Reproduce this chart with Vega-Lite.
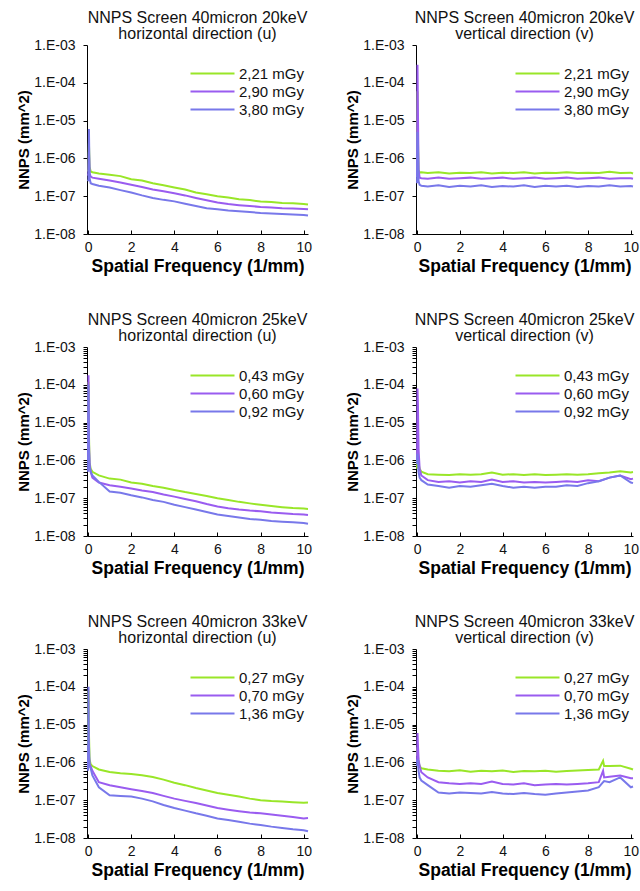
{
"$schema": "https://vega.github.io/schema/vega-lite/v6.json",
"background": "white",
"padding": {"left": 16, "top": 10, "right": 4, "bottom": 4},
"config": {
 "font": "Liberation Sans",
 "view": {"stroke": null},
 "axis": {"grid": false, "domainColor": "#000", "tickColor": "#000", "labelColor": "#111", "labelFontSize": 14, "titleFontSize": 15, "titleFontWeight": "bold", "titleColor": "#000", "tickSize": 4, "labelPadding": 8, "labelOverlap": false},
 "axisX": {"titleFontSize": 17.5, "titlePadding": 3, "labelFlush": false, "tickSize": -4, "labelPadding": 10},
 "axisY": {"titlePadding": 2},
 "title": {"fontSize": 16, "fontWeight": "normal", "color": "#111", "offset": -4, "lineHeight": 16, "anchor": "middle", "frame": "group"},
 "legend": {"orient": "none", "legendY": 21, "symbolType": "M-4,0H4", "symbolSize": 121, "symbolStrokeWidth": 2, "labelFontSize": 15, "labelColor": "#111", "labelOffset": 19, "rowPadding": 2},
 "line": {"strokeWidth": 2, "clip": true}
},
"datasets": {
 "a": [
  {"x":0,"s":"2,21 mGy","y":4.5e-7},{"x":0.02,"s":"2,21 mGy","y":5e-7},{"x":0.04,"s":"2,21 mGy","y":2.5e-6},{"x":0.07,"s":"2,21 mGy","y":6e-7},{"x":0.12,"s":"2,21 mGy","y":4.5e-7},{"x":0.2,"s":"2,21 mGy","y":4.3e-7},{"x":0.5,"s":"2,21 mGy","y":4.0e-7},{"x":1,"s":"2,21 mGy","y":3.7e-7},{"x":1.5,"s":"2,21 mGy","y":3.4e-7},{"x":2,"s":"2,21 mGy","y":2.8e-7},{"x":2.5,"s":"2,21 mGy","y":2.6e-7},{"x":3,"s":"2,21 mGy","y":2.2e-7},{"x":3.5,"s":"2,21 mGy","y":1.95e-7},{"x":4,"s":"2,21 mGy","y":1.7e-7},{"x":4.5,"s":"2,21 mGy","y":1.5e-7},{"x":5,"s":"2,21 mGy","y":1.25e-7},{"x":5.5,"s":"2,21 mGy","y":1.12e-7},{"x":6,"s":"2,21 mGy","y":1.0e-7},{"x":6.5,"s":"2,21 mGy","y":9.2e-8},{"x":7,"s":"2,21 mGy","y":8.3e-8},{"x":7.5,"s":"2,21 mGy","y":7.9e-8},{"x":8,"s":"2,21 mGy","y":7.2e-8},{"x":8.5,"s":"2,21 mGy","y":7.0e-8},{"x":9,"s":"2,21 mGy","y":6.6e-8},{"x":9.5,"s":"2,21 mGy","y":6.5e-8},{"x":10,"s":"2,21 mGy","y":6.2e-8},{"x":10.2,"s":"2,21 mGy","y":6.0e-8},
  {"x":0,"s":"2,90 mGy","y":3.5e-7},{"x":0.02,"s":"2,90 mGy","y":4e-7},{"x":0.04,"s":"2,90 mGy","y":1.5e-6},{"x":0.07,"s":"2,90 mGy","y":4e-7},{"x":0.12,"s":"2,90 mGy","y":3.3e-7},{"x":0.2,"s":"2,90 mGy","y":3.1e-7},{"x":0.5,"s":"2,90 mGy","y":2.9e-7},{"x":1,"s":"2,90 mGy","y":2.6e-7},{"x":1.5,"s":"2,90 mGy","y":2.3e-7},{"x":2,"s":"2,90 mGy","y":2.0e-7},{"x":2.5,"s":"2,90 mGy","y":1.75e-7},{"x":3,"s":"2,90 mGy","y":1.5e-7},{"x":3.5,"s":"2,90 mGy","y":1.35e-7},{"x":4,"s":"2,90 mGy","y":1.2e-7},{"x":4.5,"s":"2,90 mGy","y":1.05e-7},{"x":5,"s":"2,90 mGy","y":9e-8},{"x":5.5,"s":"2,90 mGy","y":7.8e-8},{"x":6,"s":"2,90 mGy","y":6.8e-8},{"x":6.5,"s":"2,90 mGy","y":6.2e-8},{"x":7,"s":"2,90 mGy","y":5.8e-8},{"x":7.5,"s":"2,90 mGy","y":5.5e-8},{"x":8,"s":"2,90 mGy","y":5.2e-8},{"x":8.5,"s":"2,90 mGy","y":5.0e-8},{"x":9,"s":"2,90 mGy","y":4.8e-8},{"x":9.5,"s":"2,90 mGy","y":4.7e-8},{"x":10,"s":"2,90 mGy","y":4.6e-8},{"x":10.2,"s":"2,90 mGy","y":4.5e-8},
  {"x":0,"s":"3,80 mGy","y":2.5e-7},{"x":0.02,"s":"3,80 mGy","y":2.8e-7},{"x":0.04,"s":"3,80 mGy","y":6e-6},{"x":0.07,"s":"3,80 mGy","y":3e-7},{"x":0.12,"s":"3,80 mGy","y":2.2e-7},{"x":0.2,"s":"3,80 mGy","y":2.1e-7},{"x":0.5,"s":"3,80 mGy","y":1.9e-7},{"x":1,"s":"3,80 mGy","y":1.7e-7},{"x":1.5,"s":"3,80 mGy","y":1.45e-7},{"x":2,"s":"3,80 mGy","y":1.25e-7},{"x":2.5,"s":"3,80 mGy","y":1.05e-7},{"x":3,"s":"3,80 mGy","y":9e-8},{"x":3.5,"s":"3,80 mGy","y":8e-8},{"x":4,"s":"3,80 mGy","y":7.3e-8},{"x":4.5,"s":"3,80 mGy","y":6.3e-8},{"x":5,"s":"3,80 mGy","y":5.5e-8},{"x":5.5,"s":"3,80 mGy","y":4.8e-8},{"x":6,"s":"3,80 mGy","y":4.5e-8},{"x":6.5,"s":"3,80 mGy","y":4.2e-8},{"x":7,"s":"3,80 mGy","y":4.0e-8},{"x":7.5,"s":"3,80 mGy","y":3.8e-8},{"x":8,"s":"3,80 mGy","y":3.6e-8},{"x":8.5,"s":"3,80 mGy","y":3.5e-8},{"x":9,"s":"3,80 mGy","y":3.4e-8},{"x":9.5,"s":"3,80 mGy","y":3.3e-8},{"x":10,"s":"3,80 mGy","y":3.2e-8},{"x":10.2,"s":"3,80 mGy","y":3.1e-8}
 ],
 "b": [
  {"x":0,"s":"2,21 mGy","y":4e-7},{"x":0.02,"s":"2,21 mGy","y":6e-5},{"x":0.04,"s":"2,21 mGy","y":3e-6},{"x":0.07,"s":"2,21 mGy","y":5e-7},{"x":0.12,"s":"2,21 mGy","y":4.2e-7},{"x":0.2,"s":"2,21 mGy","y":4.3e-7},{"x":0.5,"s":"2,21 mGy","y":4.1e-7},{"x":1,"s":"2,21 mGy","y":4.3e-7},{"x":1.5,"s":"2,21 mGy","y":4.0e-7},{"x":2,"s":"2,21 mGy","y":4.2e-7},{"x":2.5,"s":"2,21 mGy","y":4.1e-7},{"x":3,"s":"2,21 mGy","y":4.3e-7},{"x":3.5,"s":"2,21 mGy","y":4.0e-7},{"x":4,"s":"2,21 mGy","y":4.2e-7},{"x":4.5,"s":"2,21 mGy","y":4.1e-7},{"x":5,"s":"2,21 mGy","y":4.3e-7},{"x":5.5,"s":"2,21 mGy","y":4.0e-7},{"x":6,"s":"2,21 mGy","y":4.2e-7},{"x":6.5,"s":"2,21 mGy","y":4.1e-7},{"x":7,"s":"2,21 mGy","y":4.3e-7},{"x":7.5,"s":"2,21 mGy","y":4.1e-7},{"x":8,"s":"2,21 mGy","y":4.2e-7},{"x":8.5,"s":"2,21 mGy","y":4.1e-7},{"x":9,"s":"2,21 mGy","y":4.4e-7},{"x":9.5,"s":"2,21 mGy","y":4.1e-7},{"x":10,"s":"2,21 mGy","y":4.2e-7},{"x":10.1,"s":"2,21 mGy","y":4.0e-7},
  {"x":0,"s":"2,90 mGy","y":3.2e-7},{"x":0.02,"s":"2,90 mGy","y":3e-4},{"x":0.04,"s":"2,90 mGy","y":2e-5},{"x":0.07,"s":"2,90 mGy","y":5e-7},{"x":0.12,"s":"2,90 mGy","y":3.1e-7},{"x":0.2,"s":"2,90 mGy","y":3.0e-7},{"x":0.5,"s":"2,90 mGy","y":2.9e-7},{"x":1,"s":"2,90 mGy","y":3.1e-7},{"x":1.5,"s":"2,90 mGy","y":2.9e-7},{"x":2,"s":"2,90 mGy","y":3.0e-7},{"x":2.5,"s":"2,90 mGy","y":3.1e-7},{"x":3,"s":"2,90 mGy","y":2.9e-7},{"x":3.5,"s":"2,90 mGy","y":3.0e-7},{"x":4,"s":"2,90 mGy","y":3.1e-7},{"x":4.5,"s":"2,90 mGy","y":2.9e-7},{"x":5,"s":"2,90 mGy","y":3.0e-7},{"x":5.5,"s":"2,90 mGy","y":3.1e-7},{"x":6,"s":"2,90 mGy","y":2.9e-7},{"x":6.5,"s":"2,90 mGy","y":3.0e-7},{"x":7,"s":"2,90 mGy","y":3.1e-7},{"x":7.5,"s":"2,90 mGy","y":2.9e-7},{"x":8,"s":"2,90 mGy","y":3.0e-7},{"x":8.5,"s":"2,90 mGy","y":3.1e-7},{"x":9,"s":"2,90 mGy","y":2.9e-7},{"x":9.5,"s":"2,90 mGy","y":3.0e-7},{"x":10,"s":"2,90 mGy","y":3.0e-7},{"x":10.1,"s":"2,90 mGy","y":2.9e-7},
  {"x":0,"s":"3,80 mGy","y":2.2e-7},{"x":0.02,"s":"3,80 mGy","y":5e-6},{"x":0.04,"s":"3,80 mGy","y":2e-6},{"x":0.07,"s":"3,80 mGy","y":2.5e-7},{"x":0.12,"s":"3,80 mGy","y":2.0e-7},{"x":0.2,"s":"3,80 mGy","y":1.9e-7},{"x":0.5,"s":"3,80 mGy","y":1.8e-7},{"x":1,"s":"3,80 mGy","y":1.95e-7},{"x":1.5,"s":"3,80 mGy","y":1.75e-7},{"x":2,"s":"3,80 mGy","y":1.9e-7},{"x":2.5,"s":"3,80 mGy","y":1.8e-7},{"x":3,"s":"3,80 mGy","y":1.95e-7},{"x":3.5,"s":"3,80 mGy","y":1.75e-7},{"x":4,"s":"3,80 mGy","y":1.85e-7},{"x":4.5,"s":"3,80 mGy","y":1.8e-7},{"x":5,"s":"3,80 mGy","y":1.95e-7},{"x":5.5,"s":"3,80 mGy","y":1.75e-7},{"x":6,"s":"3,80 mGy","y":1.9e-7},{"x":6.5,"s":"3,80 mGy","y":1.8e-7},{"x":7,"s":"3,80 mGy","y":1.9e-7},{"x":7.5,"s":"3,80 mGy","y":1.75e-7},{"x":8,"s":"3,80 mGy","y":1.85e-7},{"x":8.5,"s":"3,80 mGy","y":1.8e-7},{"x":9,"s":"3,80 mGy","y":1.95e-7},{"x":9.5,"s":"3,80 mGy","y":1.8e-7},{"x":10,"s":"3,80 mGy","y":1.85e-7},{"x":10.1,"s":"3,80 mGy","y":1.8e-7}
 ],
 "c": [
  {"x":0,"s":"0,43 mGy","y":2e-6},{"x":0.02,"s":"0,43 mGy","y":1.2e-4},{"x":0.04,"s":"0,43 mGy","y":5e-6},{"x":0.07,"s":"0,43 mGy","y":9e-7},{"x":0.12,"s":"0,43 mGy","y":6e-7},{"x":0.2,"s":"0,43 mGy","y":5e-7},{"x":0.5,"s":"0,43 mGy","y":4e-7},{"x":1,"s":"0,43 mGy","y":3.3e-7},{"x":1.5,"s":"0,43 mGy","y":3.1e-7},{"x":2,"s":"0,43 mGy","y":2.6e-7},{"x":2.5,"s":"0,43 mGy","y":2.4e-7},{"x":3,"s":"0,43 mGy","y":2.1e-7},{"x":3.5,"s":"0,43 mGy","y":1.9e-7},{"x":4,"s":"0,43 mGy","y":1.65e-7},{"x":4.5,"s":"0,43 mGy","y":1.45e-7},{"x":5,"s":"0,43 mGy","y":1.3e-7},{"x":5.5,"s":"0,43 mGy","y":1.15e-7},{"x":6,"s":"0,43 mGy","y":1.0e-7},{"x":6.5,"s":"0,43 mGy","y":9e-8},{"x":7,"s":"0,43 mGy","y":8e-8},{"x":7.5,"s":"0,43 mGy","y":7.3e-8},{"x":8,"s":"0,43 mGy","y":6.7e-8},{"x":8.5,"s":"0,43 mGy","y":6.2e-8},{"x":9,"s":"0,43 mGy","y":5.8e-8},{"x":9.5,"s":"0,43 mGy","y":5.5e-8},{"x":10,"s":"0,43 mGy","y":5.3e-8},{"x":10.2,"s":"0,43 mGy","y":5.2e-8},
  {"x":0,"s":"0,60 mGy","y":1e-6},{"x":0.02,"s":"0,60 mGy","y":1.8e-4},{"x":0.04,"s":"0,60 mGy","y":3e-6},{"x":0.07,"s":"0,60 mGy","y":8e-7},{"x":0.12,"s":"0,60 mGy","y":5e-7},{"x":0.2,"s":"0,60 mGy","y":3.5e-7},{"x":0.5,"s":"0,60 mGy","y":2.6e-7},{"x":1,"s":"0,60 mGy","y":2.2e-7},{"x":1.5,"s":"0,60 mGy","y":2.0e-7},{"x":2,"s":"0,60 mGy","y":1.8e-7},{"x":2.5,"s":"0,60 mGy","y":1.6e-7},{"x":3,"s":"0,60 mGy","y":1.45e-7},{"x":3.5,"s":"0,60 mGy","y":1.25e-7},{"x":4,"s":"0,60 mGy","y":1.1e-7},{"x":4.5,"s":"0,60 mGy","y":9.5e-8},{"x":5,"s":"0,60 mGy","y":8.3e-8},{"x":5.5,"s":"0,60 mGy","y":7e-8},{"x":6,"s":"0,60 mGy","y":6e-8},{"x":6.5,"s":"0,60 mGy","y":5.4e-8},{"x":7,"s":"0,60 mGy","y":5e-8},{"x":7.5,"s":"0,60 mGy","y":4.7e-8},{"x":8,"s":"0,60 mGy","y":4.5e-8},{"x":8.5,"s":"0,60 mGy","y":4.2e-8},{"x":9,"s":"0,60 mGy","y":4e-8},{"x":9.5,"s":"0,60 mGy","y":3.8e-8},{"x":10,"s":"0,60 mGy","y":3.7e-8},{"x":10.2,"s":"0,60 mGy","y":3.6e-8},
  {"x":0,"s":"0,92 mGy","y":5e-7},{"x":0.02,"s":"0,92 mGy","y":1e-4},{"x":0.04,"s":"0,92 mGy","y":2e-6},{"x":0.07,"s":"0,92 mGy","y":7e-7},{"x":0.12,"s":"0,92 mGy","y":5e-7},{"x":0.2,"s":"0,92 mGy","y":4e-7},{"x":0.5,"s":"0,92 mGy","y":2.7e-7},{"x":1,"s":"0,92 mGy","y":1.5e-7},{"x":1.5,"s":"0,92 mGy","y":1.4e-7},{"x":2,"s":"0,92 mGy","y":1.2e-7},{"x":2.5,"s":"0,92 mGy","y":1.05e-7},{"x":3,"s":"0,92 mGy","y":9e-8},{"x":3.5,"s":"0,92 mGy","y":8e-8},{"x":4,"s":"0,92 mGy","y":6.7e-8},{"x":4.5,"s":"0,92 mGy","y":5.8e-8},{"x":5,"s":"0,92 mGy","y":5e-8},{"x":5.5,"s":"0,92 mGy","y":4.3e-8},{"x":6,"s":"0,92 mGy","y":3.7e-8},{"x":6.5,"s":"0,92 mGy","y":3.4e-8},{"x":7,"s":"0,92 mGy","y":3.1e-8},{"x":7.5,"s":"0,92 mGy","y":2.8e-8},{"x":8,"s":"0,92 mGy","y":2.7e-8},{"x":8.5,"s":"0,92 mGy","y":2.5e-8},{"x":9,"s":"0,92 mGy","y":2.4e-8},{"x":9.5,"s":"0,92 mGy","y":2.3e-8},{"x":10,"s":"0,92 mGy","y":2.2e-8},{"x":10.2,"s":"0,92 mGy","y":2.1e-8}
 ],
 "d": [
  {"x":0,"s":"0,43 mGy","y":6e-7},{"x":0.02,"s":"0,43 mGy","y":2e-6},{"x":0.04,"s":"0,43 mGy","y":1.5e-6},{"x":0.07,"s":"0,43 mGy","y":8e-7},{"x":0.12,"s":"0,43 mGy","y":6e-7},{"x":0.2,"s":"0,43 mGy","y":5e-7},{"x":0.5,"s":"0,43 mGy","y":4.3e-7},{"x":1,"s":"0,43 mGy","y":4.2e-7},{"x":1.5,"s":"0,43 mGy","y":4.1e-7},{"x":2,"s":"0,43 mGy","y":4.3e-7},{"x":2.5,"s":"0,43 mGy","y":4.2e-7},{"x":3,"s":"0,43 mGy","y":4.3e-7},{"x":3.5,"s":"0,43 mGy","y":4.8e-7},{"x":4,"s":"0,43 mGy","y":4.2e-7},{"x":4.5,"s":"0,43 mGy","y":4.3e-7},{"x":5,"s":"0,43 mGy","y":4.1e-7},{"x":5.5,"s":"0,43 mGy","y":4.3e-7},{"x":6,"s":"0,43 mGy","y":4.1e-7},{"x":6.5,"s":"0,43 mGy","y":4.2e-7},{"x":7,"s":"0,43 mGy","y":4.3e-7},{"x":7.5,"s":"0,43 mGy","y":4.2e-7},{"x":8,"s":"0,43 mGy","y":4.3e-7},{"x":8.5,"s":"0,43 mGy","y":4.6e-7},{"x":9,"s":"0,43 mGy","y":4.8e-7},{"x":9.5,"s":"0,43 mGy","y":5.2e-7},{"x":10,"s":"0,43 mGy","y":4.8e-7},{"x":10.1,"s":"0,43 mGy","y":4.9e-7},
  {"x":0,"s":"0,60 mGy","y":1e-6},{"x":0.02,"s":"0,60 mGy","y":8e-5},{"x":0.04,"s":"0,60 mGy","y":3e-5},{"x":0.07,"s":"0,60 mGy","y":2e-6},{"x":0.12,"s":"0,60 mGy","y":6e-7},{"x":0.2,"s":"0,60 mGy","y":4e-7},{"x":0.5,"s":"0,60 mGy","y":3.0e-7},{"x":1,"s":"0,60 mGy","y":2.7e-7},{"x":1.5,"s":"0,60 mGy","y":2.8e-7},{"x":2,"s":"0,60 mGy","y":2.6e-7},{"x":2.5,"s":"0,60 mGy","y":2.8e-7},{"x":3,"s":"0,60 mGy","y":2.7e-7},{"x":3.5,"s":"0,60 mGy","y":3.1e-7},{"x":4,"s":"0,60 mGy","y":2.7e-7},{"x":4.5,"s":"0,60 mGy","y":2.8e-7},{"x":5,"s":"0,60 mGy","y":2.6e-7},{"x":5.5,"s":"0,60 mGy","y":2.7e-7},{"x":6,"s":"0,60 mGy","y":2.6e-7},{"x":6.5,"s":"0,60 mGy","y":2.7e-7},{"x":7,"s":"0,60 mGy","y":2.8e-7},{"x":7.5,"s":"0,60 mGy","y":2.7e-7},{"x":8,"s":"0,60 mGy","y":3.0e-7},{"x":8.5,"s":"0,60 mGy","y":2.8e-7},{"x":9,"s":"0,60 mGy","y":3.5e-7},{"x":9.5,"s":"0,60 mGy","y":4.0e-7},{"x":10,"s":"0,60 mGy","y":3.2e-7},{"x":10.1,"s":"0,60 mGy","y":3.3e-7},
  {"x":0,"s":"0,92 mGy","y":8e-7},{"x":0.02,"s":"0,92 mGy","y":1.5e-6},{"x":0.04,"s":"0,92 mGy","y":1e-6},{"x":0.07,"s":"0,92 mGy","y":5e-7},{"x":0.12,"s":"0,92 mGy","y":3.5e-7},{"x":0.2,"s":"0,92 mGy","y":3e-7},{"x":0.5,"s":"0,92 mGy","y":2.3e-7},{"x":1,"s":"0,92 mGy","y":2.1e-7},{"x":1.5,"s":"0,92 mGy","y":1.9e-7},{"x":2,"s":"0,92 mGy","y":2.1e-7},{"x":2.5,"s":"0,92 mGy","y":2.0e-7},{"x":3,"s":"0,92 mGy","y":2.2e-7},{"x":3.5,"s":"0,92 mGy","y":2.4e-7},{"x":4,"s":"0,92 mGy","y":2.1e-7},{"x":4.5,"s":"0,92 mGy","y":1.9e-7},{"x":5,"s":"0,92 mGy","y":2.0e-7},{"x":5.5,"s":"0,92 mGy","y":1.9e-7},{"x":6,"s":"0,92 mGy","y":2.0e-7},{"x":6.5,"s":"0,92 mGy","y":2.0e-7},{"x":7,"s":"0,92 mGy","y":2.2e-7},{"x":7.5,"s":"0,92 mGy","y":2.1e-7},{"x":8,"s":"0,92 mGy","y":2.5e-7},{"x":8.5,"s":"0,92 mGy","y":2.8e-7},{"x":9,"s":"0,92 mGy","y":3.5e-7},{"x":9.5,"s":"0,92 mGy","y":4.0e-7},{"x":10,"s":"0,92 mGy","y":2.6e-7},{"x":10.1,"s":"0,92 mGy","y":2.5e-7}
 ],
 "e": [
  {"x":0,"s":"0,27 mGy","y":8e-7},{"x":0.02,"s":"0,27 mGy","y":8e-5},{"x":0.04,"s":"0,27 mGy","y":6e-6},{"x":0.07,"s":"0,27 mGy","y":1.2e-6},{"x":0.12,"s":"0,27 mGy","y":9e-7},{"x":0.2,"s":"0,27 mGy","y":8e-7},{"x":0.5,"s":"0,27 mGy","y":6.5e-7},{"x":1,"s":"0,27 mGy","y":5.6e-7},{"x":1.5,"s":"0,27 mGy","y":5.2e-7},{"x":2,"s":"0,27 mGy","y":4.9e-7},{"x":2.5,"s":"0,27 mGy","y":4.6e-7},{"x":3,"s":"0,27 mGy","y":4.1e-7},{"x":3.5,"s":"0,27 mGy","y":3.5e-7},{"x":4,"s":"0,27 mGy","y":2.9e-7},{"x":4.5,"s":"0,27 mGy","y":2.5e-7},{"x":5,"s":"0,27 mGy","y":2.1e-7},{"x":5.5,"s":"0,27 mGy","y":1.8e-7},{"x":6,"s":"0,27 mGy","y":1.55e-7},{"x":6.5,"s":"0,27 mGy","y":1.4e-7},{"x":7,"s":"0,27 mGy","y":1.25e-7},{"x":7.5,"s":"0,27 mGy","y":1.1e-7},{"x":8,"s":"0,27 mGy","y":1.0e-7},{"x":8.5,"s":"0,27 mGy","y":9.5e-8},{"x":9,"s":"0,27 mGy","y":9.2e-8},{"x":9.5,"s":"0,27 mGy","y":8.8e-8},{"x":10,"s":"0,27 mGy","y":8.5e-8},{"x":10.2,"s":"0,27 mGy","y":8.7e-8},
  {"x":0,"s":"0,70 mGy","y":7e-7},{"x":0.02,"s":"0,70 mGy","y":3e-6},{"x":0.04,"s":"0,70 mGy","y":1.5e-6},{"x":0.07,"s":"0,70 mGy","y":9e-7},{"x":0.12,"s":"0,70 mGy","y":8e-7},{"x":0.2,"s":"0,70 mGy","y":6e-7},{"x":0.5,"s":"0,70 mGy","y":3e-7},{"x":1,"s":"0,70 mGy","y":2.5e-7},{"x":1.5,"s":"0,70 mGy","y":2.2e-7},{"x":2,"s":"0,70 mGy","y":1.95e-7},{"x":2.5,"s":"0,70 mGy","y":1.75e-7},{"x":3,"s":"0,70 mGy","y":1.55e-7},{"x":3.5,"s":"0,70 mGy","y":1.3e-7},{"x":4,"s":"0,70 mGy","y":1.1e-7},{"x":4.5,"s":"0,70 mGy","y":9.6e-8},{"x":5,"s":"0,70 mGy","y":8.4e-8},{"x":5.5,"s":"0,70 mGy","y":7.2e-8},{"x":6,"s":"0,70 mGy","y":6.2e-8},{"x":6.5,"s":"0,70 mGy","y":5.6e-8},{"x":7,"s":"0,70 mGy","y":5.1e-8},{"x":7.5,"s":"0,70 mGy","y":4.7e-8},{"x":8,"s":"0,70 mGy","y":4.5e-8},{"x":8.5,"s":"0,70 mGy","y":4.2e-8},{"x":9,"s":"0,70 mGy","y":3.9e-8},{"x":9.5,"s":"0,70 mGy","y":3.6e-8},{"x":10,"s":"0,70 mGy","y":3.3e-8},{"x":10.2,"s":"0,70 mGy","y":3.4e-8},
  {"x":0,"s":"1,36 mGy","y":6e-7},{"x":0.02,"s":"1,36 mGy","y":1e-4},{"x":0.04,"s":"1,36 mGy","y":3e-6},{"x":0.07,"s":"1,36 mGy","y":8e-7},{"x":0.12,"s":"1,36 mGy","y":7e-7},{"x":0.2,"s":"1,36 mGy","y":4.5e-7},{"x":0.5,"s":"1,36 mGy","y":2.2e-7},{"x":1,"s":"1,36 mGy","y":1.35e-7},{"x":1.5,"s":"1,36 mGy","y":1.3e-7},{"x":2,"s":"1,36 mGy","y":1.25e-7},{"x":2.5,"s":"1,36 mGy","y":1.1e-7},{"x":3,"s":"1,36 mGy","y":9.3e-8},{"x":3.5,"s":"1,36 mGy","y":7.5e-8},{"x":4,"s":"1,36 mGy","y":6.2e-8},{"x":4.5,"s":"1,36 mGy","y":5.3e-8},{"x":5,"s":"1,36 mGy","y":4.5e-8},{"x":5.5,"s":"1,36 mGy","y":3.9e-8},{"x":6,"s":"1,36 mGy","y":3.3e-8},{"x":6.5,"s":"1,36 mGy","y":3.0e-8},{"x":7,"s":"1,36 mGy","y":2.7e-8},{"x":7.5,"s":"1,36 mGy","y":2.4e-8},{"x":8,"s":"1,36 mGy","y":2.2e-8},{"x":8.5,"s":"1,36 mGy","y":2.0e-8},{"x":9,"s":"1,36 mGy","y":1.85e-8},{"x":9.5,"s":"1,36 mGy","y":1.7e-8},{"x":10,"s":"1,36 mGy","y":1.6e-8},{"x":10.2,"s":"1,36 mGy","y":1.5e-8}
 ],
 "f": [
  {"x":0,"s":"0,27 mGy","y":1.5e-6},{"x":0.02,"s":"0,27 mGy","y":2.5e-6},{"x":0.04,"s":"0,27 mGy","y":1.5e-6},{"x":0.07,"s":"0,27 mGy","y":1e-6},{"x":0.12,"s":"0,27 mGy","y":8e-7},{"x":0.2,"s":"0,27 mGy","y":7e-7},{"x":0.5,"s":"0,27 mGy","y":6.5e-7},{"x":1,"s":"0,27 mGy","y":6e-7},{"x":1.5,"s":"0,27 mGy","y":5.8e-7},{"x":2,"s":"0,27 mGy","y":6.2e-7},{"x":2.5,"s":"0,27 mGy","y":5.7e-7},{"x":3,"s":"0,27 mGy","y":6.0e-7},{"x":3.5,"s":"0,27 mGy","y":5.8e-7},{"x":4,"s":"0,27 mGy","y":6.1e-7},{"x":4.5,"s":"0,27 mGy","y":5.6e-7},{"x":5,"s":"0,27 mGy","y":5.9e-7},{"x":5.5,"s":"0,27 mGy","y":5.8e-7},{"x":6,"s":"0,27 mGy","y":6.0e-7},{"x":6.5,"s":"0,27 mGy","y":5.7e-7},{"x":7,"s":"0,27 mGy","y":5.9e-7},{"x":7.5,"s":"0,27 mGy","y":6.1e-7},{"x":8,"s":"0,27 mGy","y":6.3e-7},{"x":8.5,"s":"0,27 mGy","y":6.5e-7},{"x":8.7,"s":"0,27 mGy","y":1.1e-6},{"x":8.75,"s":"0,27 mGy","y":8e-7},{"x":9,"s":"0,27 mGy","y":8e-7},{"x":9.5,"s":"0,27 mGy","y":8.2e-7},{"x":10,"s":"0,27 mGy","y":6.8e-7},{"x":10.1,"s":"0,27 mGy","y":6.5e-7},
  {"x":0,"s":"0,70 mGy","y":1e-6},{"x":0.02,"s":"0,70 mGy","y":6e-6},{"x":0.04,"s":"0,70 mGy","y":3e-6},{"x":0.07,"s":"0,70 mGy","y":1.2e-6},{"x":0.12,"s":"0,70 mGy","y":8e-7},{"x":0.2,"s":"0,70 mGy","y":5.5e-7},{"x":0.5,"s":"0,70 mGy","y":4e-7},{"x":1,"s":"0,70 mGy","y":3e-7},{"x":1.5,"s":"0,70 mGy","y":2.8e-7},{"x":2,"s":"0,70 mGy","y":2.7e-7},{"x":2.5,"s":"0,70 mGy","y":2.8e-7},{"x":3,"s":"0,70 mGy","y":2.7e-7},{"x":3.5,"s":"0,70 mGy","y":3.1e-7},{"x":4,"s":"0,70 mGy","y":2.7e-7},{"x":4.5,"s":"0,70 mGy","y":2.6e-7},{"x":5,"s":"0,70 mGy","y":2.8e-7},{"x":5.5,"s":"0,70 mGy","y":2.5e-7},{"x":6,"s":"0,70 mGy","y":2.6e-7},{"x":6.5,"s":"0,70 mGy","y":2.7e-7},{"x":7,"s":"0,70 mGy","y":2.6e-7},{"x":7.5,"s":"0,70 mGy","y":2.7e-7},{"x":8,"s":"0,70 mGy","y":2.8e-7},{"x":8.5,"s":"0,70 mGy","y":3e-7},{"x":8.7,"s":"0,70 mGy","y":6e-7},{"x":8.75,"s":"0,70 mGy","y":4e-7},{"x":9,"s":"0,70 mGy","y":4.2e-7},{"x":9.5,"s":"0,70 mGy","y":4.5e-7},{"x":10,"s":"0,70 mGy","y":3.8e-7},{"x":10.1,"s":"0,70 mGy","y":3.8e-7},
  {"x":0,"s":"1,36 mGy","y":8e-7},{"x":0.02,"s":"1,36 mGy","y":1.2e-6},{"x":0.04,"s":"1,36 mGy","y":1e-6},{"x":0.07,"s":"1,36 mGy","y":6e-7},{"x":0.12,"s":"1,36 mGy","y":4e-7},{"x":0.2,"s":"1,36 mGy","y":3.3e-7},{"x":0.5,"s":"1,36 mGy","y":2.5e-7},{"x":1,"s":"1,36 mGy","y":1.6e-7},{"x":1.5,"s":"1,36 mGy","y":1.5e-7},{"x":2,"s":"1,36 mGy","y":1.6e-7},{"x":2.5,"s":"1,36 mGy","y":1.55e-7},{"x":3,"s":"1,36 mGy","y":1.5e-7},{"x":3.5,"s":"1,36 mGy","y":1.65e-7},{"x":4,"s":"1,36 mGy","y":1.5e-7},{"x":4.5,"s":"1,36 mGy","y":1.45e-7},{"x":5,"s":"1,36 mGy","y":1.55e-7},{"x":5.5,"s":"1,36 mGy","y":1.45e-7},{"x":6,"s":"1,36 mGy","y":1.4e-7},{"x":6.5,"s":"1,36 mGy","y":1.5e-7},{"x":7,"s":"1,36 mGy","y":1.6e-7},{"x":7.5,"s":"1,36 mGy","y":1.7e-7},{"x":8,"s":"1,36 mGy","y":1.8e-7},{"x":8.5,"s":"1,36 mGy","y":2.2e-7},{"x":8.7,"s":"1,36 mGy","y":3e-7},{"x":8.75,"s":"1,36 mGy","y":3.2e-7},{"x":9,"s":"1,36 mGy","y":3e-7},{"x":9.5,"s":"1,36 mGy","y":4e-7},{"x":10,"s":"1,36 mGy","y":2.2e-7},{"x":10.1,"s":"1,36 mGy","y":2.3e-7}
 ]
},
"bounds": "flush",
"spacing": 302,
"resolve": {"scale": {"x": "independent", "y": "independent", "color": "independent"}, "legend": {"color": "independent"}, "axis": {"x": "independent", "y": "independent"}},
"vconcat": [
 {"hconcat": [
  {"title": {"text": ["NNPS  Screen 40micron 20keV", "horizontal direction (u)"]}, "width": 221, "height": 189, "data": {"name": "a"}, "mark": {"type": "line"},
   "encoding": {
    "x": {"field": "x", "type": "quantitative", "scale": {"domain": [-0.05, 10.2], "nice": false, "zero": false}, "axis": {"values": [0,2,4,6,8,10], "title": "Spatial Frequency (1/mm)"}},
    "y": {"field": "y", "type": "quantitative", "scale": {"type": "log", "domain": [1e-8, 1e-3], "nice": false}, "axis": {"values": [1e-8,1e-7,1e-6,1e-5,1e-4,1e-3], "labelExpr": "'1.E-0' + round(-log(datum.value)/LN10)", "title": "NNPS (mm^2)"}},
    "color": {"field": "s", "type": "nominal", "scale": {"domain": ["2,21 mGy","2,90 mGy","3,80 mGy"], "range": ["#99e628","#9a5cf0","#7878ea"]}, "legend": {"title": null, "legendX": 118}}
   }},
  {"title": {"text": ["NNPS  Screen 40micron 20keV", "vertical direction (v)"]}, "width": 217, "height": 189, "data": {"name": "b"}, "mark": {"type": "line"},
   "encoding": {
    "x": {"field": "x", "type": "quantitative", "scale": {"domain": [-0.05, 10.1], "nice": false, "zero": false}, "axis": {"values": [0,2,4,6,8,10], "title": "Spatial Frequency (1/mm)"}},
    "y": {"field": "y", "type": "quantitative", "scale": {"type": "log", "domain": [1e-8, 1e-3], "nice": false}, "axis": {"values": [1e-8,1e-7,1e-6,1e-5,1e-4,1e-3], "labelExpr": "'1.E-0' + round(-log(datum.value)/LN10)", "title": "NNPS (mm^2)"}},
    "color": {"field": "s", "type": "nominal", "scale": {"domain": ["2,21 mGy","2,90 mGy","3,80 mGy"], "range": ["#99e628","#9a5cf0","#7878ea"]}, "legend": {"title": null, "legendX": 114}}
   }}
 ], "spacing": 108, "bounds": "flush", "resolve": {"scale": {"x": "independent", "y": "independent", "color": "independent"}, "legend": {"color": "independent"}}},
 {"hconcat": [
  {"title": {"text": ["NNPS  Screen 40micron 25keV", "horizontal direction (u)"]}, "width": 221, "height": 189, "data": {"name": "c"}, "mark": {"type": "line"},
   "encoding": {
    "x": {"field": "x", "type": "quantitative", "scale": {"domain": [-0.05, 10.2], "nice": false, "zero": false}, "axis": {"values": [0,2,4,6,8,10], "title": "Spatial Frequency (1/mm)"}},
    "y": {"field": "y", "type": "quantitative", "scale": {"type": "log", "domain": [1e-8, 1e-3], "nice": false}, "axis": {"values": [1e-8,2e-8,3e-8,4e-8,5e-8,6e-8,7e-8,8e-8,9e-8,1e-7,2e-7,3e-7,4e-7,5e-7,6e-7,7e-7,8e-7,9e-7,1e-6,2e-6,3e-6,4e-6,5e-6,6e-6,7e-6,8e-6,9e-6,1e-5,2e-5,3e-5,4e-5,5e-5,6e-5,7e-5,8e-5,9e-5,1e-4,2e-4,3e-4,4e-4,5e-4,6e-4,7e-4,8e-4,9e-4,1e-3], "labelExpr": "abs(log(datum.value)/LN10 - round(log(datum.value)/LN10)) < 0.001 ? '1.E-0' + round(-log(datum.value)/LN10) : ''", "title": "NNPS (mm^2)"}},
    "color": {"field": "s", "type": "nominal", "scale": {"domain": ["0,43 mGy","0,60 mGy","0,92 mGy"], "range": ["#99e628","#9a5cf0","#7878ea"]}, "legend": {"title": null, "legendX": 118}}
   }},
  {"title": {"text": ["NNPS  Screen 40micron 25keV", "vertical direction (v)"]}, "width": 217, "height": 189, "data": {"name": "d"}, "mark": {"type": "line"},
   "encoding": {
    "x": {"field": "x", "type": "quantitative", "scale": {"domain": [-0.05, 10.1], "nice": false, "zero": false}, "axis": {"values": [0,2,4,6,8,10], "title": "Spatial Frequency (1/mm)"}},
    "y": {"field": "y", "type": "quantitative", "scale": {"type": "log", "domain": [1e-8, 1e-3], "nice": false}, "axis": {"values": [1e-8,2e-8,3e-8,4e-8,5e-8,6e-8,7e-8,8e-8,9e-8,1e-7,2e-7,3e-7,4e-7,5e-7,6e-7,7e-7,8e-7,9e-7,1e-6,2e-6,3e-6,4e-6,5e-6,6e-6,7e-6,8e-6,9e-6,1e-5,2e-5,3e-5,4e-5,5e-5,6e-5,7e-5,8e-5,9e-5,1e-4,2e-4,3e-4,4e-4,5e-4,6e-4,7e-4,8e-4,9e-4,1e-3], "labelExpr": "abs(log(datum.value)/LN10 - round(log(datum.value)/LN10)) < 0.001 ? '1.E-0' + round(-log(datum.value)/LN10) : ''", "title": "NNPS (mm^2)"}},
    "color": {"field": "s", "type": "nominal", "scale": {"domain": ["0,43 mGy","0,60 mGy","0,92 mGy"], "range": ["#99e628","#9a5cf0","#7878ea"]}, "legend": {"title": null, "legendX": 114}}
   }}
 ], "spacing": 108, "bounds": "flush", "resolve": {"scale": {"x": "independent", "y": "independent", "color": "independent"}, "legend": {"color": "independent"}}},
 {"hconcat": [
  {"title": {"text": ["NNPS  Screen 40micron 33keV", "horizontal direction (u)"]}, "width": 221, "height": 189, "data": {"name": "e"}, "mark": {"type": "line"},
   "encoding": {
    "x": {"field": "x", "type": "quantitative", "scale": {"domain": [-0.05, 10.2], "nice": false, "zero": false}, "axis": {"values": [0,2,4,6,8,10], "title": "Spatial Frequency (1/mm)"}},
    "y": {"field": "y", "type": "quantitative", "scale": {"type": "log", "domain": [1e-8, 1e-3], "nice": false}, "axis": {"values": [1e-8,2e-8,3e-8,4e-8,5e-8,6e-8,7e-8,8e-8,9e-8,1e-7,2e-7,3e-7,4e-7,5e-7,6e-7,7e-7,8e-7,9e-7,1e-6,2e-6,3e-6,4e-6,5e-6,6e-6,7e-6,8e-6,9e-6,1e-5,2e-5,3e-5,4e-5,5e-5,6e-5,7e-5,8e-5,9e-5,1e-4,2e-4,3e-4,4e-4,5e-4,6e-4,7e-4,8e-4,9e-4,1e-3], "labelExpr": "abs(log(datum.value)/LN10 - round(log(datum.value)/LN10)) < 0.001 ? '1.E-0' + round(-log(datum.value)/LN10) : ''", "title": "NNPS (mm^2)"}},
    "color": {"field": "s", "type": "nominal", "scale": {"domain": ["0,27 mGy","0,70 mGy","1,36 mGy"], "range": ["#99e628","#9a5cf0","#7878ea"]}, "legend": {"title": null, "legendX": 118}}
   }},
  {"title": {"text": ["NNPS  Screen 40micron 33keV", "vertical direction (v)"]}, "width": 217, "height": 189, "data": {"name": "f"}, "mark": {"type": "line"},
   "encoding": {
    "x": {"field": "x", "type": "quantitative", "scale": {"domain": [-0.05, 10.1], "nice": false, "zero": false}, "axis": {"values": [0,2,4,6,8,10], "title": "Spatial Frequency (1/mm)"}},
    "y": {"field": "y", "type": "quantitative", "scale": {"type": "log", "domain": [1e-8, 1e-3], "nice": false}, "axis": {"values": [1e-8,2e-8,3e-8,4e-8,5e-8,6e-8,7e-8,8e-8,9e-8,1e-7,2e-7,3e-7,4e-7,5e-7,6e-7,7e-7,8e-7,9e-7,1e-6,2e-6,3e-6,4e-6,5e-6,6e-6,7e-6,8e-6,9e-6,1e-5,2e-5,3e-5,4e-5,5e-5,6e-5,7e-5,8e-5,9e-5,1e-4,2e-4,3e-4,4e-4,5e-4,6e-4,7e-4,8e-4,9e-4,1e-3], "labelExpr": "abs(log(datum.value)/LN10 - round(log(datum.value)/LN10)) < 0.001 ? '1.E-0' + round(-log(datum.value)/LN10) : ''", "title": "NNPS (mm^2)"}},
    "color": {"field": "s", "type": "nominal", "scale": {"domain": ["0,27 mGy","0,70 mGy","1,36 mGy"], "range": ["#99e628","#9a5cf0","#7878ea"]}, "legend": {"title": null, "legendX": 114}}
   }}
 ], "spacing": 108, "bounds": "flush", "resolve": {"scale": {"x": "independent", "y": "independent", "color": "independent"}, "legend": {"color": "independent"}}}
]
}
